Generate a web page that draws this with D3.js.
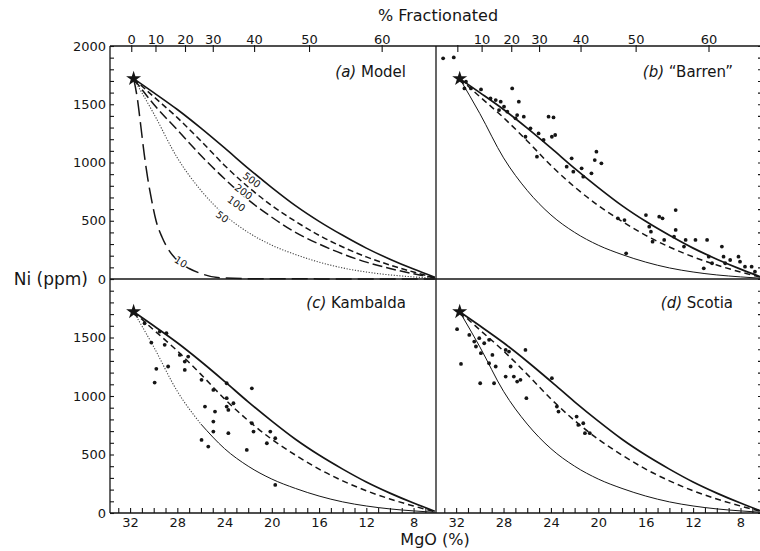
<!DOCTYPE html>
<html lang="en">
<head>
<meta charset="UTF-8">
<title>Ni vs MgO - olivine fractionation</title>
<script src="https://d3js.org/d3.v7.min.js"></script>
<style>
  body { margin: 0; background: #fff; }
  svg text { font-family: 'DejaVu Sans', sans-serif; fill: #151515; }
  .frame { stroke: #151515; stroke-width: 1.3; }
  .tick line { stroke: #151515; stroke-width: 1.1; }
</style>
</head>
<body>
<svg width="760" height="551"></svg>
<script>
// model curves (MgO %, Ni ppm)
const mgoGrid = [31.7, 30, 28, 26, 24, 22, 20, 18, 16, 14, 12, 10, 8, 6.2];
const ni500 = [1720, 1600, 1455, 1295, 1125, 950, 785, 630, 495, 375, 265, 170, 85, 15];
const ni200 = [1720, 1565, 1385, 1185, 975, 790, 630, 495, 375, 275, 190, 120, 60, 12];
const ni100 = [1720, 1500, 1280, 1060, 860, 680, 530, 400, 300, 215, 145, 90, 45, 10];
const ni50 = [1720, 1420, 1040, 760, 550, 400, 290, 210, 145, 95, 60, 35, 18, 6];
const mgo10 = [31.7, 31.4, 31.1, 30.8, 30.5, 30.2, 29.8, 29.3, 28.8, 28.0, 27.0, 26.0, 24.6, 22, 16, 6.2];
const ni10 = [1720, 1560, 1320, 1070, 860, 690, 500, 360, 260, 160, 90, 47, 12, 3, 1, 0];

const startMgO = 31.7, startNi = 1720;

// curve labels in panel (a): text, MgO, Ni
const curveLabels = [['500', 21.7, 850], ['200', 22.4, 748], ['100', 23.0, 645], ['50', 24.2, 533], ['10', 27.7, 146]];

// top axis: % fractionated and the MgO it sits at
const fracLabels = [0, 10, 20, 30, 40, 50, 60];
const fracMgO = [31.9, 29.85, 27.35, 25.0, 21.5, 16.85, 10.7];

const mgoTickLabels = [32, 28, 24, 20, 16, 12, 8];
const niTickLabels = [0, 500, 1000, 1500, 2000];

// samples
const barrenMgO = [33.1, 32.2, 31.3, 30.75, 31.17, 29.9, 29.1, 28.66, 28.24, 27.96, 28.38, 27.68, 27.27, 26.71, 26.85, 26.99, 26.29, 26.15, 25.73, 25.04, 25.18, 24.62, 24.2, 23.78, 23.92, 23.64, 22.25, 22.67, 22.11, 21.41, 21.27, 20.58, 20.16, 20.3, 19.74, 18.35, 17.79, 17.65, 15.98, 15.7, 15.56, 14.86, 14.58, 13.47, 13.47, 13.61, 14.44, 12.63, 11.8, 10.82, 10.68, 10.4, 11.1, 9.57, 9.43, 9.29, 8.87, 8.17, 8.04, 7.62, 7.06, 6.78, 15.42, 12.77];
const barrenNi = [1894, 1902, 1636, 1636, 1693, 1627, 1550, 1536, 1522, 1479, 1450, 1436, 1636, 1522, 1407, 1379, 1393, 1221, 1293, 1250, 1050, 1193, 1393, 1387, 1221, 1236, 1036, 964, 921, 950, 878, 907, 1093, 1021, 993, 521, 506, 220, 549, 449, 406, 535, 521, 592, 421, 363, 335, 335, 335, 335, 192, 135, 92, 278, 192, 135, 163, 192, 149, 106, 106, 63, 320, 278];

const kambMgO = [30.77, 30.2, 29.78, 29.92, 29.49, 28.92, 29.07, 28.78, 27.79, 27.37, 27.08, 27.37, 25.95, 25.66, 25.38, 25.95, 24.95, 24.95, 24.95, 24.81, 23.82, 23.82, 23.82, 23.68, 23.68, 23.25, 22.12, 21.69, 21.69, 21.55, 20.42, 20.13, 19.71, 19.71];
const kambNi = [1622, 1457, 1232, 1115, 1551, 1537, 1437, 1252, 1351, 1294, 1337, 1223, 1138, 910, 568, 625, 1052, 781, 696, 867, 1109, 981, 910, 881, 682, 938, 539, 767, 1066, 696, 596, 696, 639, 240];

const scotiaMgO = [31.92, 31.59, 30.89, 30.47, 30.33, 30.05, 29.91, 29.97, 29.63, 29.22, 29.22, 28.94, 28.8, 28.66, 27.82, 27.82, 27.54, 27.4, 27.13, 26.85, 26.57, 26.15, 26.07, 23.92, 23.5, 23.36, 21.83, 21.69, 21.27, 21.13, 20.72];
const scotiaNi = [1571, 1274, 1522, 1465, 1423, 1494, 1366, 1109, 1451, 1480, 1280, 1351, 1109, 1252, 1166, 1394, 1380, 1252, 1166, 1123, 1138, 1394, 981, 1152, 910, 867, 824, 753, 767, 682, 682];

const svg = d3.select('svg');

const xL = d3.scaleLinear().domain([33.7, 6.1]).range([110, 436]);
const xR = d3.scaleLinear().domain([33.7, 6.1]).range([436, 763]);
const yT = d3.scaleLinear().domain([0, 2000]).range([279, 46]);
const yB = d3.scaleLinear().domain([0, 2000]).range([513, 279]);

const zip = (a, b) => a.map((v, i) => [v, b[i]]);

const panels = [
    {tag: '(a)', name: 'Model', x: xL, y: yT},
    {tag: '(b)', name: '\u201CBarren\u201D', x: xR, y: yT, mgo: barrenMgO, ni: barrenNi},
    {tag: '(c)', name: 'Kambalda', x: xL, y: yB, mgo: kambMgO, ni: kambNi},
    {tag: '(d)', name: 'Scotia', x: xR, y: yB, mgo: scotiaMgO, ni: scotiaNi}
];

function drawCurve(p, pts, width, dash, color) {
    const line = d3.line()
        .x(d => p.x(d[0]))
        .y(d => p.y(d[1]))
        .curve(d3.curveMonotoneX);
    svg.append('path')
        .datum(pts)
        .attr('d', line)
        .attr('fill', 'none')
        .attr('stroke', color || '#151515')
        .attr('stroke-width', width)
        .attr('stroke-dasharray', dash || null);
}

// axes ticks
panels.forEach((p, i) => {
    const left = p.x.range()[0], right = p.x.range()[1];
    const top = p.y.range()[1], bottom = p.y.range()[0];
    const isTop = p.y === yT;

    // inner y ticks on both sides
    const yl = svg.append('g').attr('transform', `translate(${left},0)`)
        .call(d3.axisRight(p.y).tickValues(d3.range(0, 2001, 100)).tickSize(i % 2 ? 0 : 4).tickFormat(''));
    yl.select('.domain').remove();
    const yr = svg.append('g').attr('transform', `translate(${right},0)`)
        .call(d3.axisLeft(p.y).tickValues(d3.range(0, 2001, 100)).tickSize(i % 2 ? 5 : 0).tickFormat(''));
    yr.select('.domain').remove();

    if (isTop) {
        const ft = svg.append('g').attr('transform', `translate(0,${top - 1})`)
            .call(d3.axisBottom(p.x).tickValues(fracMgO).tickSize(7).tickFormat(''));
        ft.select('.domain').remove();
        const fl = svg.append('g').attr('transform', `translate(0,${top})`)
            .call(d3.axisTop(p.x).tickValues(i === 0 ? fracMgO : fracMgO.slice(1)).tickSize(0).tickPadding(2)
                .tickFormat(d => fracLabels[fracMgO.indexOf(d)]));
        fl.select('.domain').remove();
        fl.selectAll('text').style('font-size', '13px').style('font-family', "'DejaVu Sans', sans-serif");
    } else {
        const bt = svg.append('g').attr('transform', `translate(0,${bottom})`)
            .call(d3.axisTop(p.x).tickValues(d3.range(7, 34)).tickSize(5).tickFormat(''));
        bt.select('.domain').remove();
        const bl = svg.append('g').attr('transform', `translate(0,${bottom})`)
            .call(d3.axisBottom(p.x).tickValues(mgoTickLabels).tickSize(0).tickPadding(5));
        bl.select('.domain').remove();
        bl.selectAll('text').style('font-size', '13px').style('font-family', "'DejaVu Sans', sans-serif");
    }

    if (i % 2 === 0) {
        const vals = isTop ? niTickLabels : niTickLabels.slice(0, 4);
        const la = svg.append('g').attr('transform', `translate(${left},0)`)
            .call(d3.axisLeft(p.y).tickValues(vals).tickSize(0).tickPadding(4).tickFormat(d3.format('d')));
        la.select('.domain').remove();
        la.selectAll('text').style('font-size', '13px').style('font-family', "'DejaVu Sans', sans-serif");
    }

    // panel title
    const t = svg.append('text')
        .attr('x', right - 30)
        .attr('y', top + (isTop ? 31 : 29))
        .attr('text-anchor', 'end')
        .style('font-size', '15px');
    t.append('tspan').style('font-style', 'italic').text(p.tag + ' ');
    t.append('tspan').text(p.name);
});

// frame lines
const frame = [
    [110, 46, 760, 46], [110, 279, 760, 279], [110, 513, 760, 513],
    [110, 46, 110, 513], [436, 46, 436, 513]
];
svg.selectAll('line.frame').data(frame).enter().append('line')
    .attr('class', 'frame')
    .attr('x1', d => d[0]).attr('y1', d => d[1])
    .attr('x2', d => d[2]).attr('y2', d => d[3]);

// panel (a): model curves
const pa = panels[0];
drawCurve(pa, zip(mgoGrid, ni50), 1.1, '1.2,1.6', '#444');
drawCurve(pa, zip(mgoGrid, ni100), 1.5, '10,4');
drawCurve(pa, zip(mgoGrid, ni200), 1.5, '6,3.5');
drawCurve(pa, zip(mgoGrid, ni500), 1.6);
drawCurve(pa, zip(mgo10, ni10), 1.5, '16,6');

svg.append('g').selectAll('text')
    .data(curveLabels)
    .enter().append('text')
    .attr('transform', d => `translate(${pa.x(d[1])},${pa.y(d[2])}) rotate(${d[0] === '10' ? 32 : 36})`)
    .attr('text-anchor', 'middle')
    .attr('dy', '0.35em')
    .style('font-size', '10px')
    .style('stroke', '#fff').style('stroke-width', 3).style('paint-order', 'stroke')
    .text(d => d[0]);

// panels (b)-(d): three model curves plus samples
panels.slice(1).forEach((p, k) => {
    const low = zip(mgoGrid, ni50);
    if (k === 1) {
        drawCurve(p, low.filter(d => d[0] >= 26), 1.1, '1.2,1.6', '#444');
        drawCurve(p, low.filter(d => d[0] <= 26), 1.0);
    } else {
        drawCurve(p, low, 1.0);
    }
    drawCurve(p, zip(mgoGrid, ni200), 1.5, '6,4');
    drawCurve(p, zip(mgoGrid, ni500), 1.7);

    svg.append('g').selectAll('circle')
        .data(zip(p.mgo, p.ni))
        .enter().append('circle')
        .attr('cx', d => p.x(d[0]))
        .attr('cy', d => p.y(d[1]))
        .attr('r', 1.9)
        .attr('fill', '#151515');
});

// starting liquid star
panels.forEach(p => {
    svg.append('path')
        .attr('d', d3.symbol().type(d3.symbolStar).size(70))
        .attr('transform', `translate(${p.x(startMgO)},${p.y(startNi)})`)
        .attr('fill', '#151515');
});

// axis titles
svg.append('text').attr('x', 438).attr('y', 21).attr('text-anchor', 'middle')
    .style('font-size', '16px').text('% Fractionated');
svg.append('text').attr('x', 435).attr('y', 545).attr('text-anchor', 'middle')
    .style('font-size', '16px').text('MgO (%)');
svg.append('text').attr('x', 88).attr('y', 285).attr('text-anchor', 'end')
    .style('font-size', '17px').text('Ni (ppm)');
</script>
</body>
</html>
